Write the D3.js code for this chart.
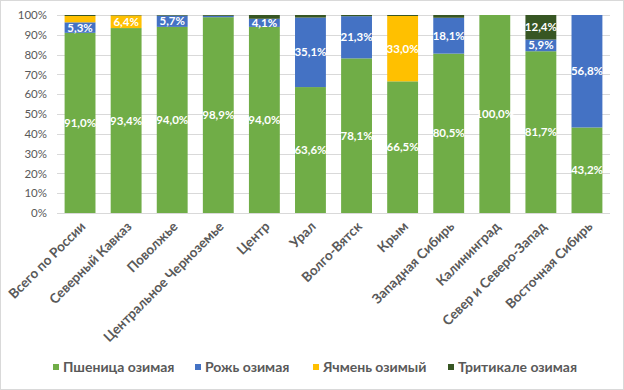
<!DOCTYPE html>
<html><head><meta charset="utf-8">
<script src="https://cdn.jsdelivr.net/npm/d3@7"></script>
<style>
html,body{margin:0;padding:0;background:#fff;}
svg{display:block;}
text{font-family:Lato,"Open Sans",sans-serif;}
</style></head>
<body>
<svg id="chart" width="624" height="390"></svg>
<script>
const categories = ["Всего по России","Северный Кавказ","Поволжье","Центральное Черноземье","Центр","Урал","Волго-Вятск","Крым","Западная Сибирь","Калининград","Север и Северо-Запад","Восточная Сибирь"];
const seriesNames = ["Пшеница озимая","Рожь озимая","Ячмень озимый","Тритикале озимая"];
const wheat     = [91.0, 93.4, 94.0, 98.9, 94.0, 63.6, 78.1, 66.5, 80.5, 100.0, 81.7, 43.2];
const rye       = [5.3,  0.0,  5.7,  0.7,  4.1,  35.1, 21.3, 0.0,  18.1, 0.0,   5.9,  56.8];
const barley    = [3.2,  6.4,  0.0,  0.0,  0.0,  0.0,  0.0,  33.0, 0.0,  0.0,   0.0,  0.0];
const triticale = [0.5,  0.2,  0.3,  0.4,  1.9,  1.3,  0.6,  0.5,  1.4,  0.0,   12.4, 0.0];
const yTicks = [0,10,20,30,40,50,60,70,80,90,100];
const colors = ["#70AD47","#4472C4","#FFC000","#375623"];

const svg = d3.select("#chart");
const W = 624, H = 390;
const m = {left:57, right:14, top:15, bottom:177};

svg.append("rect").attr("x",0.5).attr("y",0.5).attr("width",W-1).attr("height",H-1)
  .attr("fill","#fff").attr("stroke","#D9D9D9");

const x = d3.scaleBand().domain(categories).range([m.left, W-m.right]).paddingInner(0.33).paddingOuter(0.165);
const y = d3.scaleLinear().domain([0,100]).range([H-m.bottom, m.top]);

// gridlines
svg.append("g").selectAll("line").data(yTicks).join("line")
  .attr("x1", m.left).attr("x2", W-m.right)
  .attr("y1", d=>Math.round(y(d))+0.5).attr("y2", d=>Math.round(y(d))+0.5)
  .attr("stroke","#D9D9D9").attr("stroke-width",1);

// y axis labels
const yAxis = d3.axisLeft(y).tickValues(yTicks).tickSize(0).tickPadding(10).tickFormat(d=>d+"%");
const gy = svg.append("g").attr("transform",`translate(${m.left},0)`).call(yAxis);
gy.select(".domain").remove();
gy.selectAll("text").attr("fill","#595959").style("font-size","11.5px").style("font-family","Lato,sans-serif");

const rows = categories.map((c,i)=>({cat:c, "Пшеница озимая":wheat[i], "Рожь озимая":rye[i], "Ячмень озимый":barley[i], "Тритикале озимая":triticale[i]}));
const stack = d3.stack().keys(seriesNames)(rows);

const layers = svg.append("g").selectAll("g").data(stack).join("g").attr("fill",(d,i)=>colors[i]);
layers.selectAll("rect").data(d=>d).join("rect")
  .attr("x", d=>x(d.data.cat)).attr("width", x.bandwidth())
  .attr("y", d=>y(d[1])).attr("height", d=>Math.max(0, y(d[0])-y(d[1])));

// labels
const lab = svg.append("g");
stack.forEach((s)=>{
  s.forEach(d=>{
    const v = d[1]-d[0];
    if (v >= 4) {
      lab.append("text")
        .attr("x", x(d.data.cat)+x.bandwidth()/2)
        .attr("y", y((d[0]+d[1])/2))
        .attr("dy","0.35em")
        .attr("text-anchor","middle")
        .attr("fill","#fff")
        .style("font-size","11.5px").style("font-weight","bold")
        .text(d3.format(".1f")(v).replace(".",",")+"%");
    }
  });
});

// x axis category labels
const xl = svg.append("g");
categories.forEach(c=>{
  const cx = x(c)+x.bandwidth()/2 + 3;
  const cy = H-m.bottom+11;
  xl.append("text")
    .attr("transform",`translate(${cx},${cy}) rotate(-45)`)
    .attr("text-anchor","end").attr("dy","0.35em")
    .attr("fill","#595959").style("font-size","13.5px").style("font-weight","bold")
    .text(c);
});

// legend
const legSq = [53, 195, 313, 448];
const leg = svg.append("g");
seriesNames.forEach((n,i)=>{
  leg.append("rect").attr("x",legSq[i]).attr("y",364).attr("width",6).attr("height",6).attr("fill",colors[i]);
  leg.append("text").attr("x",legSq[i]+10).attr("y",367).attr("dy","0.35em")
    .attr("fill","#595959").style("font-size","14px").style("font-weight","bold").text(n);
});
</script>
</body></html>
